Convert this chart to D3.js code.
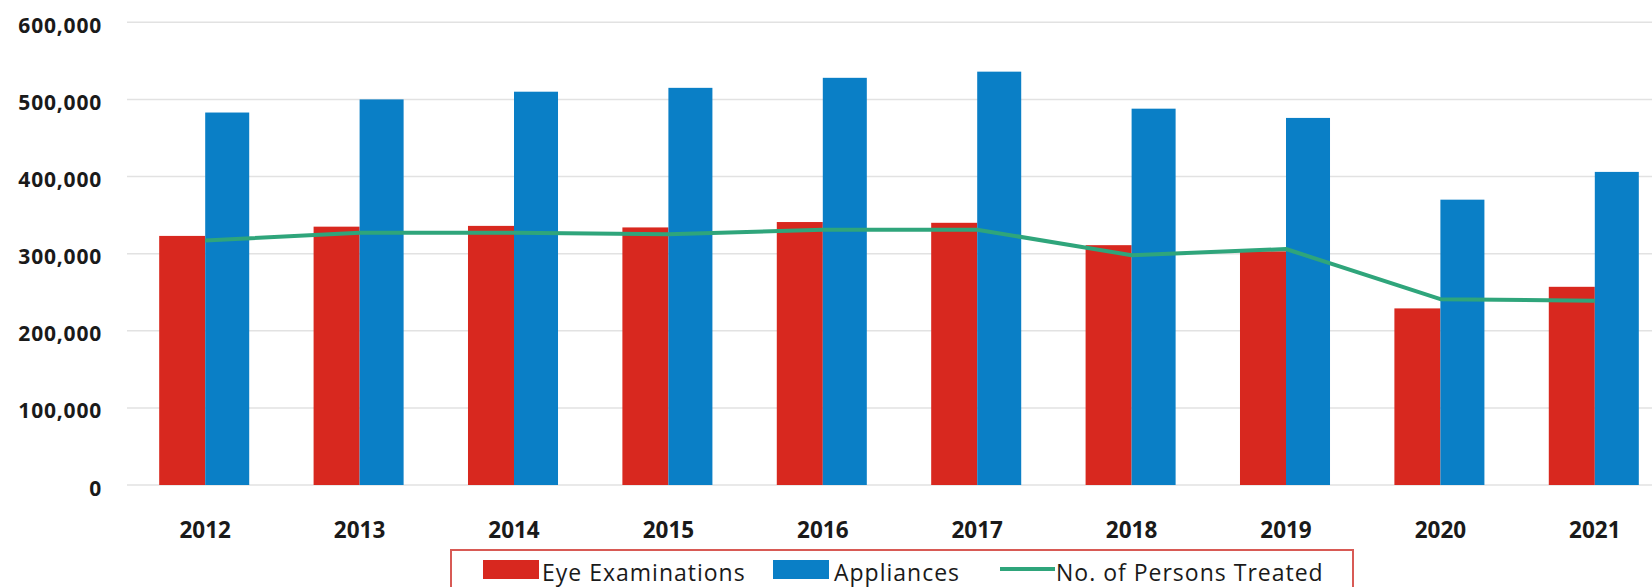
<!DOCTYPE html>
<html>
<head>
<meta charset="utf-8">
<script src="https://cdn.jsdelivr.net/npm/d3@7"></script>
<style>
  html, body { margin: 0; padding: 0; background: #fff; }
  svg { display: block; }
</style>
</head>
<body>
<svg id="chart" width="1652" height="587"></svg>
<script>
const years = ["2012","2013","2014","2015","2016","2017","2018","2019","2020","2021"];
const eyeExaminations = [323000, 335000, 336000, 334000, 341000, 340000, 311000, 303000, 229000, 257000];
const appliances = [483000, 500000, 510000, 515000, 528000, 536000, 488000, 476000, 370000, 406000];
const personsTreated = [317000, 327000, 327000, 325000, 331000, 331000, 298000, 306000, 241000, 239000];
const yTicks = [0, 100000, 200000, 300000, 400000, 500000, 600000];
const seriesNames = ["Eye Examinations", "Appliances", "No. of Persons Treated"];

const colors = { eye: "#d8281f", app: "#0a7fc6", line: "#2fa57b", grid: "#e2e2e2", legendBorder: "#d85a55" };

const svg = d3.select("#chart");
const plotLeft = 127, plotRight = 1652;

const y = d3.scaleLinear().domain([0, 600000]).range([485, 22.3]);
const x = d3.scaleBand().domain(years).range([128, 1672]).paddingInner(0.404).paddingOuter(0.202);
const xs = d3.scaleBand().domain(["eye", "app"]).range([0, x.bandwidth()]);

// gridlines
svg.append("g").selectAll("line").data(yTicks).join("line")
  .attr("x1", plotLeft).attr("x2", plotRight)
  .attr("y1", d => y(d)).attr("y2", d => y(d))
  .attr("stroke", colors.grid).attr("stroke-width", 1.5);

// y axis labels
const fmt = d3.format(",");
svg.append("g").selectAll("text").data(yTicks).join("text")
  .attr("x", 102).attr("y", d => y(d) + 10.5)
  .attr("text-anchor", "end")
  .attr("font-family", "'Open Sans', sans-serif").attr("font-weight", "bold")
  .attr("font-size", 21).attr("letter-spacing", 0.8).attr("fill", "#1a1a1a")
  .text(d => fmt(d));

// bars
const rows = years.map((yr, i) => ({ yr, eye: eyeExaminations[i], app: appliances[i] }));
const g = svg.append("g");
g.selectAll("rect.eye").data(rows).join("rect").attr("class", "eye")
  .attr("x", d => x(d.yr) + xs("eye")).attr("width", xs.bandwidth())
  .attr("y", d => y(d.eye)).attr("height", d => y(0) - y(d.eye))
  .attr("fill", colors.eye);
g.selectAll("rect.app").data(rows).join("rect").attr("class", "app")
  .attr("x", d => x(d.yr) + xs("app")).attr("width", xs.bandwidth() - 2)
  .attr("y", d => y(d.app)).attr("height", d => y(0) - y(d.app))
  .attr("fill", colors.app);

// line
const line = d3.line()
  .x((d, i) => x(years[i]) + x.bandwidth() / 2)
  .y(d => y(d));
svg.append("path").datum(personsTreated)
  .attr("d", line).attr("fill", "none")
  .attr("stroke", colors.line).attr("stroke-width", 4).attr("stroke-linejoin", "round");

// x labels
svg.append("g").selectAll("text").data(years).join("text")
  .attr("x", d => x(d) + x.bandwidth() / 2).attr("y", 538)
  .attr("text-anchor", "middle")
  .attr("font-family", "'Open Sans', sans-serif").attr("font-weight", "bold")
  .attr("font-size", 22.5).attr("fill", "#1a1a1a")
  .text(d => d);

// legend
const lg = svg.append("g");
lg.append("rect").attr("x", 451).attr("y", 550).attr("width", 902).attr("height", 60)
  .attr("fill", "#fff").attr("stroke", colors.legendBorder).attr("stroke-width", 2);
const items = [
  { name: seriesNames[0], type: "rect", color: colors.eye, sx: 483, tx: 542 },
  { name: seriesNames[1], type: "rect", color: colors.app, sx: 773, tx: 834 },
  { name: seriesNames[2], type: "line", color: colors.line, sx: 1000, tx: 1056 }
];
items.forEach(it => {
  if (it.type === "rect") {
    lg.append("rect").attr("x", it.sx).attr("y", 560).attr("width", 56).attr("height", 19).attr("fill", it.color);
  } else {
    lg.append("line").attr("x1", it.sx).attr("x2", it.sx + 55).attr("y1", 569).attr("y2", 569)
      .attr("stroke", it.color).attr("stroke-width", 4);
  }
  lg.append("text").attr("x", it.tx).attr("y", 581)
    .attr("font-family", "'Open Sans', sans-serif").attr("font-size", 23)
    .attr("letter-spacing", 1).attr("fill", "#1a1a1a")
    .text(it.name);
});
</script>
</body>
</html>
